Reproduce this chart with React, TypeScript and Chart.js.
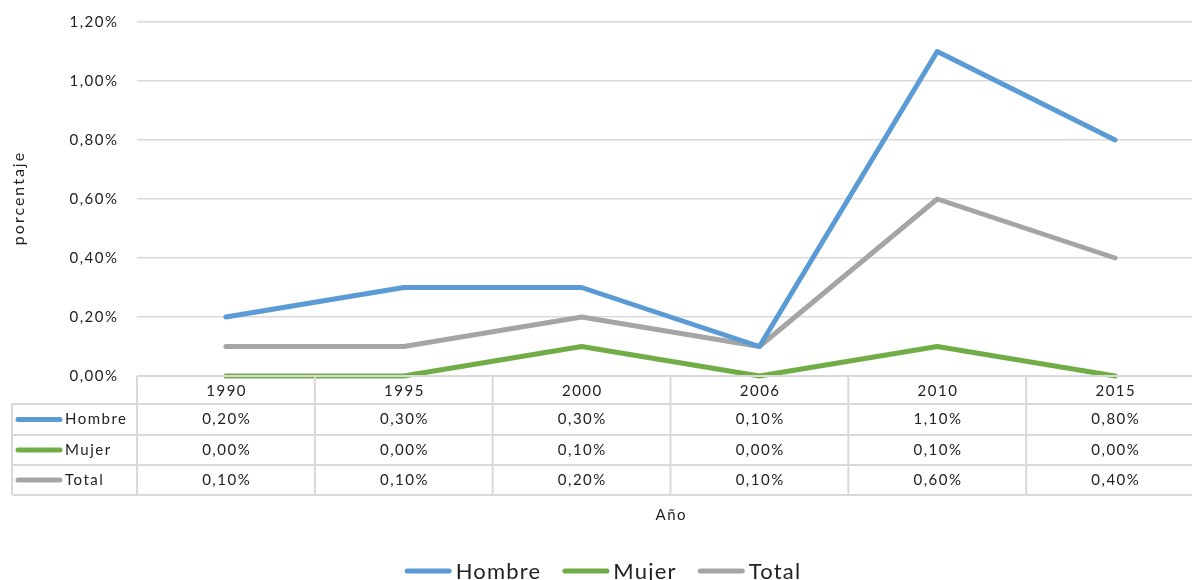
import React, { useEffect, useRef } from 'react';
import { Chart, registerables } from 'chart.js';

Chart.register(...registerables);

const years = ['1990', '1995', '2000', '2006', '2010', '2015'];
const hombre = [0.002, 0.003, 0.003, 0.001, 0.011, 0.008];
const mujer = [0.0, 0.0, 0.001, 0.0, 0.001, 0.0];
const total = [0.001, 0.001, 0.002, 0.001, 0.006, 0.004];
const seriesNames = ['Hombre', 'Mujer', 'Total'];
const seriesColors = ['#5B9BD5', '#70AD47', '#A5A5A5'];
const yTitle = 'porcentaje';
const xTitle = 'Año';

const W = 1210;
const H = 580;
const FONT = 'Lato, "Open Sans", sans-serif';
const TEXT = '#222222';
const LINE = '#D9D9D9';

const fmt = (v: number) => (v * 100).toFixed(2).replace('.', ',') + '%';

const tablePlugin = {
  id: 'excelTable',
  afterDraw(chart: any) {
    const { ctx, chartArea, scales } = chart;
    const yScale = scales.y;
    const seriesData = [hombre, mujer, total];
    const left = chartArea.left;
    const right = chartArea.right;
    const n = years.length;
    const cw = (right - left) / n;
    const top = chartArea.bottom;
    const rowsY = [top, top + 28, top + 59, top + 89, top + 119];
    const keyLeft = 12;

    ctx.save();
    // y tick labels
    ctx.fillStyle = TEXT;
    ctx.font = `15px ${FONT}`;
    ctx.letterSpacing = '1.5px';
    ctx.textAlign = 'right';
    ctx.textBaseline = 'middle';
    yScale.ticks.forEach((t: any) => {
      ctx.fillText(fmt(t.value), left - 18.5, yScale.getPixelForValue(t.value));
    });

    // table grid
    ctx.strokeStyle = LINE;
    ctx.lineWidth = 2;
    ctx.beginPath();
    ctx.moveTo(left, rowsY[0]);
    ctx.lineTo(right, rowsY[0]);
    for (let r = 1; r < rowsY.length; r++) {
      ctx.moveTo(keyLeft, rowsY[r]);
      ctx.lineTo(right, rowsY[r]);
    }
    for (let i = 0; i <= n; i++) {
      const x = left + i * cw;
      ctx.moveTo(x, rowsY[0]);
      ctx.lineTo(x, rowsY[4]);
    }
    ctx.moveTo(keyLeft, rowsY[1]);
    ctx.lineTo(keyLeft, rowsY[4]);
    ctx.stroke();

    ctx.textAlign = 'center';
    years.forEach((y, i) => {
      ctx.fillText(y, left + (i + 0.5) * cw + 0.75, (rowsY[0] + rowsY[1]) / 2 + 1);
    });
    seriesData.forEach((data, r) => {
      const cy = (rowsY[r + 1] + rowsY[r + 2]) / 2;
      data.forEach((v, i) => {
        ctx.textAlign = 'center';
        ctx.fillText(fmt(v), left + (i + 0.5) * cw + 0.75, cy);
      });
      ctx.strokeStyle = seriesColors[r];
      ctx.lineWidth = 5;
      ctx.lineCap = 'round';
      ctx.beginPath();
      ctx.moveTo(18, cy);
      ctx.lineTo(60, cy);
      ctx.stroke();
      ctx.textAlign = 'left';
      ctx.fillText(seriesNames[r], 65, cy);
    });

    // x title
    ctx.textAlign = 'center';
    ctx.fillText(xTitle, (left + right) / 2 + 0.75, 515);

    // y title
    ctx.save();
    ctx.font = `16px ${FONT}`;
    ctx.letterSpacing = '2px';
    ctx.translate(19, (chartArea.top + chartArea.bottom) / 2);
    ctx.rotate(-Math.PI / 2);
    ctx.textAlign = 'center';
    ctx.textBaseline = 'middle';
    ctx.fillText(yTitle, 1, 0);
    ctx.restore();

    // legend
    ctx.font = `22px ${FONT}`;
    ctx.letterSpacing = '1.2px';
    ctx.textBaseline = 'alphabetic';
    const lineLen = 47;
    const gapText = 4;
    const itemGap = 21;
    const widths = seriesNames.map((s) => ctx.measureText(s).width);
    const totalW = widths.reduce((a, w) => a + lineLen + gapText + w, 0) + itemGap * (seriesNames.length - 1);
    let x = 603 - totalW / 2;
    seriesNames.forEach((s, i) => {
      ctx.strokeStyle = seriesColors[i];
      ctx.lineWidth = 5;
      ctx.lineCap = 'round';
      ctx.beginPath();
      ctx.moveTo(x + 2.5, 571);
      ctx.lineTo(x + lineLen - 2.5, 571);
      ctx.stroke();
      ctx.textAlign = 'left';
      ctx.fillText(s, x + lineLen + gapText, 579);
      x += lineLen + gapText + widths[i] + itemGap;
    });
    ctx.restore();
  },
};

export default function App() {
  const ref = useRef<HTMLCanvasElement | null>(null);
  useEffect(() => {
    if (!ref.current) return;
    const datasets = [hombre, mujer, total].map((d, i) => ({
      label: seriesNames[i],
      data: d,
      borderColor: seriesColors[i],
      backgroundColor: seriesColors[i],
      borderWidth: 5,
      pointRadius: 0,
      pointHoverRadius: 0,
      borderCapStyle: 'round' as const,
      borderJoinStyle: 'round' as const,
      tension: 0,
      fill: false,
      clip: 4,
    }));
    const chart = new Chart(ref.current, {
      type: 'line',
      data: { labels: years, datasets },
      options: {
        animation: false,
        responsive: false,
        maintainAspectRatio: false,
        layout: { padding: { top: 22, bottom: H - 376, left: 0, right: W - 1204 } },
        plugins: { legend: { display: false }, tooltip: { enabled: false } },
        scales: {
          x: { display: false, offset: true },
          y: {
            min: 0,
            max: 0.012,
            ticks: {
              stepSize: 0.002,
              display: false,
            },
            grid: { color: LINE, lineWidth: 1.5, drawTicks: false },
            border: { display: false },
            afterFit: (s: any) => {
              s.width = 137;
            },
          },
        },
      },
      plugins: [tablePlugin],
    });
    return () => chart.destroy();
  }, []);
  return (
    <div style={{ position: 'fixed', left: 0, top: 0, width: W, height: H, background: '#fff' }}>
      <canvas ref={ref} width={W} height={H} style={{ width: W, height: H, display: 'block' }} />
    </div>
  );
}
